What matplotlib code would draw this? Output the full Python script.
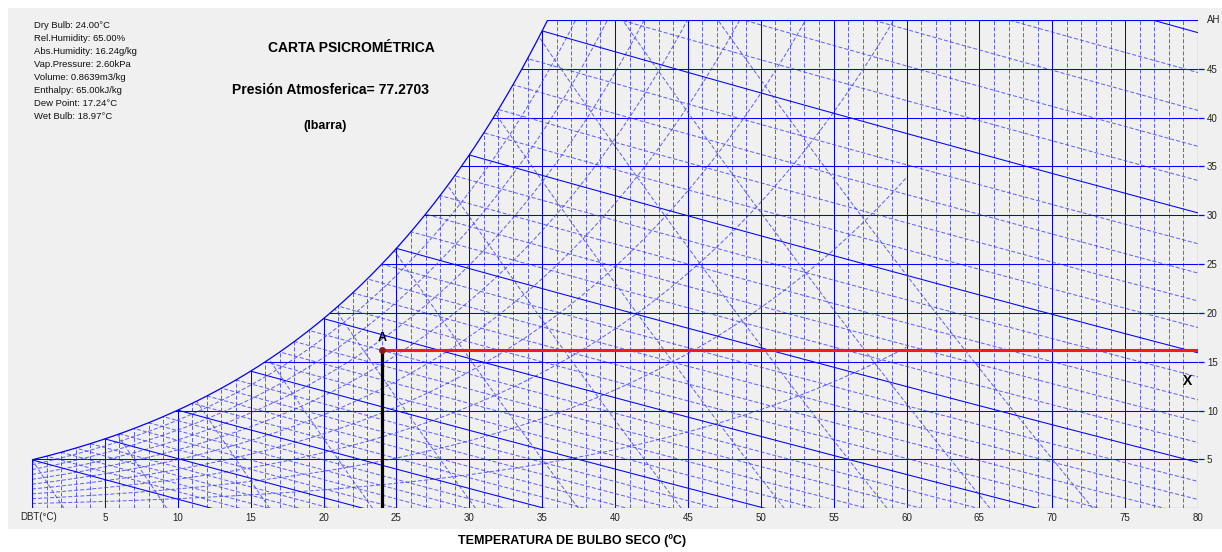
import numpy as np
import matplotlib
matplotlib.use("Agg")
import matplotlib.pyplot as plt
from matplotlib.patches import Rectangle, PathPatch
from matplotlib.path import Path

plt.rcParams["font.family"] = ["Liberation Sans", "DejaVu Sans"]
plt.rcParams["lines.scale_dashes"] = False

# ---- chart parameters -------------------------------------------------
P_ATM = 77.2703                       # kPa, local pressure
P_STD = 101.325                       # kPa, used by the volume scale
DBT_MAX = 80                          # deg C
AH_MAX = 50                           # g/kg
DBT_LINES = list(range(0, 81))        # dry-bulb grid, every 1 deg C
DBT_TICKS = [5, 10, 15, 20, 25, 30, 35, 40, 45, 50, 55, 60, 65, 70, 75, 80]
AH_TICKS = [5, 10, 15, 20, 25, 30, 35, 40, 45]
RH_LEVELS = [10, 20, 30, 40, 50, 60, 70, 80, 90]          # percent
RH_T_MAX = 60                                              # deg C
ENTHALPY_SAT_TEMPS = list(range(0, 41))                    # deg C on saturation
VOLUME_LEVELS = [0.78, 0.80, 0.82, 0.84, 0.86, 0.88, 0.90, 0.92, 0.94,
                 0.96, 0.98]                               # m3/kg

# state point A
POINT_DBT = 24.0
POINT_AH = 16.24
POINT_INFO = [
    "Dry Bulb: 24.00°C",
    "Rel.Humidity: 65.00%",
    "Abs.Humidity: 16.24g/kg",
    "Vap.Pressure: 2.60kPa",
    "Volume: 0.8639m3/kg",
    "Enthalpy: 65.00kJ/kg",
    "Dew Point: 17.24°C",
    "Wet Bulb: 18.97°C",
]

BLUE = "#0000ff"
DASH_BLUE = "#3c3cff"
BG = "#f0f0f0"


# ---- psychrometric relations -----------------------------------------
def p_sat(t):
    """Saturation vapour pressure over water, kPa (ASHRAE)."""
    tk = np.asarray(t, dtype=float) + 273.15
    ln_p = (-5.8002206e3 / tk + 1.3914993 - 4.8640239e-2 * tk
            + 4.1764768e-5 * tk ** 2 - 1.4452093e-8 * tk ** 3
            + 6.5459673 * np.log(tk))
    return np.exp(ln_p) / 1000.0


def ah_from_pw(pw):
    return 622.0 * pw / (P_ATM - pw)


def ah_sat(t):
    return ah_from_pw(p_sat(t))


def enthalpy(t, w):
    return 1.006 * t + w / 1000.0 * (2501.0 + 1.86 * t)


# ---- figure -----------------------------------------------------------
W_PX, H_PX = 1222, 552
fig = plt.figure(figsize=(W_PX / 100, H_PX / 100), dpi=100)
fig.patch.set_facecolor("white")


def fx(x):
    return x / W_PX


def fy(y):
    return 1 - y / H_PX


fig.add_artist(Rectangle((fx(8), fy(529)), fx(1222 - 8), (529 - 8) / H_PX,
                         transform=fig.transFigure, facecolor=BG,
                         edgecolor="none", zorder=0))

x0, x1, y0, y1 = 32, 1198, 508.3, 19.8
ax = fig.add_axes([fx(x0), fy(y0), fx(x1 - x0), (y0 - y1) / H_PX])
ax.set_xlim(0, DBT_MAX)
ax.set_ylim(0, AH_MAX)
ax.patch.set_visible(False)
for s in ax.spines.values():
    s.set_visible(False)

# chart region bounded by the saturation curve
tt = np.linspace(0, DBT_MAX, 4001)
ws = ah_sat(tt)
t_top = float(np.interp(AH_MAX, ws, tt))
t_curve = np.linspace(0, t_top, 400)
w_curve = ah_sat(t_curve)
region = np.vstack([
    [[0, 0], [DBT_MAX, 0], [DBT_MAX, AH_MAX], [t_top, AH_MAX]],
    np.column_stack([t_curve[::-1], w_curve[::-1]]),
    [[0, 0]],
])
clip = PathPatch(Path(region), transform=ax.transData, facecolor="none",
                 edgecolor="none")
ax.add_patch(clip)

solid_kw = dict(color=BLUE, lw=0.75, solid_capstyle="butt")
dash_kw = dict(color=DASH_BLUE, lw=0.72, linestyle=(0, (2.9, 1.45)), alpha=0.8)


def draw(x, y, solid):
    ln, = ax.plot(x, y, **(solid_kw if solid else dash_kw))
    ln.set_clip_path(clip)


# dry-bulb verticals
for t in DBT_LINES[1:-1]:
    draw([t, t], [0, AH_MAX], t % 5 == 0)

# absolute-humidity horizontals
for w in AH_TICKS:
    draw([0, DBT_MAX], [w, w], True)

# relative humidity curves
t_rh = np.linspace(0, RH_T_MAX, 1201)
for rh in RH_LEVELS:
    draw(t_rh, ah_from_pw(rh / 100.0 * p_sat(t_rh)), False)

# enthalpy lines through saturation temperatures
for ts in ENTHALPY_SAT_TEMPS:
    h = enthalpy(ts, ah_sat(ts))
    w_line = (h - 1.006 * tt) / (2501.0 + 1.86 * tt) * 1000.0
    draw(tt, w_line, ts % 5 == 0)

# specific volume lines
wg = np.linspace(0, AH_MAX, 400)
for v in VOLUME_LEVELS:
    t_line = v * P_STD / (0.287042 * (1 + 1.6078 * wg / 1000.0)) - 273.15
    draw(t_line, wg, False)

# chart outline and saturation curve
ax.plot(t_curve, w_curve, color=BLUE, lw=0.9)
ax.plot([t_top, DBT_MAX, DBT_MAX, 0, 0],
        [AH_MAX, AH_MAX, 0, 0, ah_sat(0)], color=BLUE, lw=0.8)

# state point
ax.plot([POINT_DBT, POINT_DBT], [0, POINT_AH], color="black", lw=2.3,
        solid_capstyle="butt", zorder=5)
ax.plot([POINT_DBT, DBT_MAX], [POINT_AH, POINT_AH], color="#ee1c1c", lw=2.2,
        solid_capstyle="butt", zorder=5)
ax.plot([POINT_DBT], [POINT_AH], marker="o", ms=4, color="#8b1a1a",
        mfc="#8b1a1a", zorder=6)
ax.text(POINT_DBT, POINT_AH + 0.55, "A", ha="center", va="bottom",
        fontsize=9, fontweight="bold", color="black", zorder=6)
ax.text(79.3, 13.0, "X", ha="center", va="center", fontsize=10,
        fontweight="bold", color="black", zorder=6)

# axes labels and ticks
ax.set_xticks(DBT_TICKS)
ax.set_xticklabels([str(v) for v in DBT_TICKS])
ax.tick_params(axis="x", length=0, pad=3.5, labelsize=7, labelcolor="#222222")
ax.yaxis.tick_right()
ax.set_yticks(AH_TICKS)
ax.set_yticklabels([str(v) for v in AH_TICKS])
ax.tick_params(axis="y", length=4.5, width=0.9, color=BLUE, pad=2,
               labelsize=7, labelcolor="#222222")
ax.text(-0.8 / DBT_MAX, -8.7 / (y0 - y1), "DBT(°C)", transform=ax.transAxes,
        ha="left", va="center", fontsize=7, color="#222222")
fig.text(fx(1207), fy(20), "AH", ha="left", va="center", fontsize=7,
         color="#222222")

# texts
for i, line in enumerate(POINT_INFO):
    fig.text(fx(34), fy(26 + 12.95 * i), line, ha="left", va="center",
             fontsize=6.8, color="#111111")
fig.text(fx(351), fy(47.5), "CARTA PSICROMÉTRICA", ha="center", va="center",
         fontsize=10, fontweight="bold")
fig.text(fx(330), fy(90.5), "Presión Atmosferica= 77.2703", ha="center",
         va="center", fontsize=10, fontweight="bold")
fig.text(fx(325), fy(126), "(Ibarra)", ha="center", va="center",
         fontsize=9, fontweight="bold")
fig.text(fx(572), fy(541), "TEMPERATURA DE BULBO SECO (ºC)", ha="center",
         va="center", fontsize=9, fontweight="bold")

fig.savefig("out.png", dpi=100, facecolor=fig.get_facecolor())
